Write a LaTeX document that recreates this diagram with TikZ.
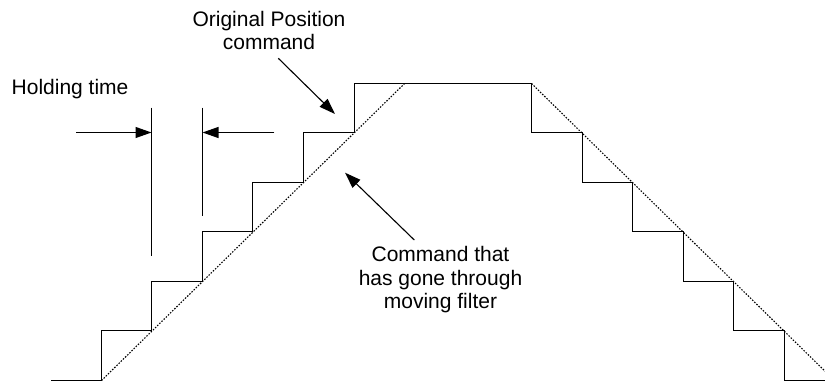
\documentclass[tikz,border=0pt]{standalone}
\usepackage{fontspec}
\setmainfont{Liberation Sans}
\usetikzlibrary{arrows.meta}
\begin{document}
\begin{tikzpicture}[x=1pt,y=-1pt,
  lbl/.style={font=\fontsize{21}{23.5}\selectfont, inner sep=0pt, align=center},
  stair/.style={line width=1.2pt, line join=miter},
  filtline/.style={line width=1.1pt, dash pattern=on 1.5pt off 1.5pt},
  arr/.style={line width=1.1pt, -{Triangle[length=16pt,width=11pt]}},
  markline/.style={line width=1.1pt}]
\useasboundingbox (0,0) rectangle (825,385);
\clip (0,0) rectangle (825,385);

% labels
\node[lbl, anchor=base west] (hold) at (11.5,95) {Holding time};
\node[lbl, anchor=north] (orig) at (269,10.7) {Original Position\\command};
\node[lbl, anchor=north] (filt) at (440.5,246.4) {Command that\\has gone through\\moving filter};

% staircase (original position command)
\draw[stair] (51,380.5) -- (101.5,380.5) |- (151.5,330.5) |- (202.5,281.5) |- (252.5,231.5)
  |- (303.5,182.5) |- (354.5,132.5) |- (531.5,83.5) |- (582.5,132.5) |- (632.5,182.5)
  |- (683.5,231.5) |- (733.5,281.5) |- (784.5,330.5) |- (834.5,380.5);

% filtered command
\draw[filtline] (101.5,380.5) -- (404.6,83.5);
\draw[filtline] (531.5,83.5) -- (834.5,380.5);

% holding time markers
\coordinate (m1top) at (151.5,107.7); \coordinate (m1bot) at (151.5,256);
\coordinate (m2top) at (202.5,107.7); \coordinate (m2bot) at (202.5,216);
\coordinate (a1) at (76,132.5); \coordinate (a2) at (274.3,132.5);
\draw[markline] (m1top) -- (m1bot);
\draw[markline] (m2top) -- (m2bot);
\draw[arr] (a1) -- (a1 -| m1top);
\draw[arr] (a2) -- (a2 -| m2top);

% label arrows
\coordinate (origS) at (278.3,58.3); \coordinate (origT) at (335,114);
\coordinate (filtS) at (414.3,240); \coordinate (filtT) at (345,172.7);
\draw[arr] (origS) -- (origT);
\draw[arr] (filtS) -- (filtT);
\end{tikzpicture}
\end{document}
